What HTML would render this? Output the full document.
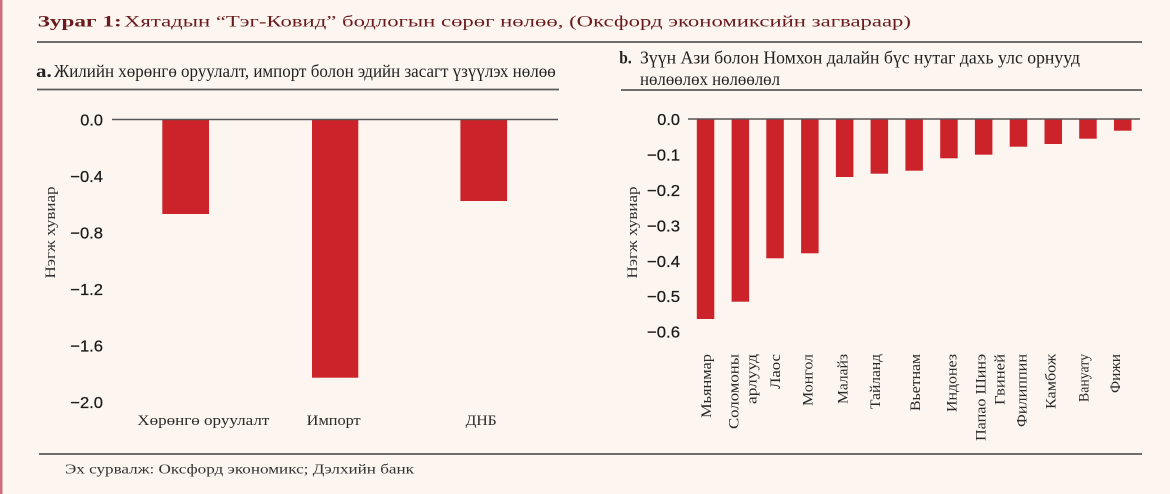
<!DOCTYPE html>
<html>
<head>
<meta charset="utf-8">
<style>
html,body{margin:0;padding:0;background:#fdf6f0;}
svg{display:block;}
.serif{font-family:"Liberation Serif","DejaVu Serif",serif;}
.sans{font-family:"Liberation Sans","DejaVu Sans",sans-serif;}
</style>
</head>
<body>
<svg width="1170" height="494" viewBox="0 0 1170 494" xmlns="http://www.w3.org/2000/svg">
<rect x="0" y="0" width="1170" height="494" fill="#fdf6f0"/>
<rect x="0" y="0" width="2.5" height="494" fill="#c9707a"/>

<!-- Title -->
<text class="serif" x="37.7" y="26.7" font-size="16" font-weight="bold" fill="#6a1a1d" textLength="84" lengthAdjust="spacingAndGlyphs">Зураг 1:</text>
<text class="serif" x="124" y="26.7" font-size="16" fill="#6a1a1d" textLength="787" lengthAdjust="spacingAndGlyphs">Хятадын “Тэг-Ковид” бодлогын сөрөг нөлөө, (Оксфорд экономиксийн загвараар)</text>
<line x1="37" y1="42" x2="1142" y2="42" stroke="#5a5a5a" stroke-width="1.7"/>

<!-- Subtitle a -->
<text class="serif" x="36" y="77" font-size="18" font-weight="bold" fill="#222" textLength="15.7" lengthAdjust="spacingAndGlyphs">a.</text>
<text class="serif" x="54" y="77" font-size="18" fill="#222" textLength="501.7" lengthAdjust="spacingAndGlyphs">Жилийн хөрөнгө оруулалт, импорт болон эдийн засагт үзүүлэх нөлөө</text>
<line x1="37" y1="89.5" x2="559" y2="89.5" stroke="#5a5a5a" stroke-width="1.7"/>

<!-- Subtitle b -->
<text class="serif" x="619.3" y="63.3" font-size="18" font-weight="bold" fill="#222" textLength="12.4" lengthAdjust="spacingAndGlyphs">b.</text>
<text class="serif" x="640" y="63.3" font-size="18" fill="#222" textLength="440" lengthAdjust="spacingAndGlyphs">Зүүн Ази болон Номхон далайн бүс нутаг дахь улс орнууд</text>
<text class="serif" x="640" y="85" font-size="18" fill="#222" textLength="140" lengthAdjust="spacingAndGlyphs">нөлөөлөх нөлөөлөл</text>
<line x1="621" y1="90" x2="1142" y2="90" stroke="#5a5a5a" stroke-width="1.7"/>

<!-- Left chart -->
<g fill="#cc2229">
<rect x="162.3" y="119.5" width="46.7" height="94.5"/>
<rect x="312" y="119.5" width="46.3" height="258.2"/>
<rect x="460.4" y="119.5" width="46.7" height="81.5"/>
</g>
<line x1="112" y1="119.5" x2="558" y2="119.5" stroke="#555" stroke-width="1.4"/>
<g class="sans" font-size="16" fill="#1a1a1a" stroke="#1a1a1a" stroke-width="0.25" text-anchor="end">
<text x="103" y="125.3" textLength="22.7" lengthAdjust="spacingAndGlyphs">0.0</text>
<text x="103" y="181.8" textLength="32.7" lengthAdjust="spacingAndGlyphs">−0.4</text>
<text x="103" y="238.3" textLength="32.7" lengthAdjust="spacingAndGlyphs">−0.8</text>
<text x="103" y="294.8" textLength="32.7" lengthAdjust="spacingAndGlyphs">−1.2</text>
<text x="103" y="351.3" textLength="32.7" lengthAdjust="spacingAndGlyphs">−1.6</text>
<text x="103" y="407.8" textLength="32.7" lengthAdjust="spacingAndGlyphs">−2.0</text>
</g>
<text class="serif" font-size="14.5" fill="#333" text-anchor="middle" transform="translate(55,232.5) rotate(-90)" textLength="92" lengthAdjust="spacingAndGlyphs">Нэгж хувиар</text>
<g class="serif" font-size="15" fill="#2a2a2a">
<text x="137.3" y="425" textLength="132" lengthAdjust="spacingAndGlyphs">Хөрөнгө оруулалт</text>
<text x="306.7" y="425" textLength="54" lengthAdjust="spacingAndGlyphs">Импорт</text>
<text x="465.7" y="425" textLength="31" lengthAdjust="spacingAndGlyphs">ДНБ</text>
</g>

<!-- Right chart -->
<g fill="#cc2229">
<rect x="696.8" y="119" width="17.5" height="200"/>
<rect x="731.6" y="119" width="17.5" height="182.7"/>
<rect x="766.3" y="119" width="17.5" height="139.3"/>
<rect x="801.1" y="119" width="17.5" height="134.3"/>
<rect x="835.9" y="119" width="17.5" height="58"/>
<rect x="870.6" y="119" width="17.5" height="54.7"/>
<rect x="905.4" y="119" width="17.5" height="51.7"/>
<rect x="940.2" y="119" width="17.5" height="39.3"/>
<rect x="974.9" y="119" width="17.5" height="35.7"/>
<rect x="1009.7" y="119" width="17.5" height="27.7"/>
<rect x="1044.5" y="119" width="17.5" height="25"/>
<rect x="1079.2" y="119" width="17.5" height="19.7"/>
<rect x="1114" y="119" width="17.5" height="11.7"/>
</g>
<line x1="688" y1="119" x2="1140" y2="119" stroke="#555" stroke-width="1.4"/>
<g class="sans" font-size="16" fill="#1a1a1a" stroke="#1a1a1a" stroke-width="0.25" text-anchor="end">
<text x="680" y="124.8" textLength="22.7" lengthAdjust="spacingAndGlyphs">0.0</text>
<text x="680" y="160.5" textLength="33" lengthAdjust="spacingAndGlyphs">−0.1</text>
<text x="680" y="196.2" textLength="33" lengthAdjust="spacingAndGlyphs">−0.2</text>
<text x="680" y="231.5" textLength="33" lengthAdjust="spacingAndGlyphs">−0.3</text>
<text x="680" y="266.8" textLength="33" lengthAdjust="spacingAndGlyphs">−0.4</text>
<text x="680" y="302" textLength="33" lengthAdjust="spacingAndGlyphs">−0.5</text>
<text x="680" y="337.5" textLength="33" lengthAdjust="spacingAndGlyphs">−0.6</text>
</g>
<text class="serif" font-size="14.5" fill="#333" text-anchor="middle" transform="translate(637,232.5) rotate(-90)" textLength="92" lengthAdjust="spacingAndGlyphs">Нэгж хувиар</text>

<g class="serif" font-size="15" fill="#2a2a2a" text-anchor="end">
<text transform="translate(711,354) rotate(-90)" textLength="64" lengthAdjust="spacingAndGlyphs">Мьянмар</text>
<text transform="translate(738.3,354) rotate(-90)" textLength="75" lengthAdjust="spacingAndGlyphs">Соломоны</text>
<text transform="translate(756.7,354) rotate(-90)" textLength="50" lengthAdjust="spacingAndGlyphs">арлууд</text>
<text transform="translate(780,354) rotate(-90)" textLength="35" lengthAdjust="spacingAndGlyphs">Лаос</text>
<text transform="translate(812.3,354) rotate(-90)" textLength="52" lengthAdjust="spacingAndGlyphs">Монгол</text>
<text transform="translate(847.3,354) rotate(-90)" textLength="50" lengthAdjust="spacingAndGlyphs">Малайз</text>
<text transform="translate(880,354) rotate(-90)" textLength="55" lengthAdjust="spacingAndGlyphs">Тайланд</text>
<text transform="translate(920,354) rotate(-90)" textLength="57" lengthAdjust="spacingAndGlyphs">Вьетнам</text>
<text transform="translate(956.7,354) rotate(-90)" textLength="58" lengthAdjust="spacingAndGlyphs">Индонез</text>
<text transform="translate(985.7,354) rotate(-90)" textLength="87" lengthAdjust="spacingAndGlyphs">Папао Шинэ</text>
<text transform="translate(1004.3,354) rotate(-90)" textLength="51" lengthAdjust="spacingAndGlyphs">Гвиней</text>
<text transform="translate(1026.7,354) rotate(-90)" textLength="73" lengthAdjust="spacingAndGlyphs">Филиппин</text>
<text transform="translate(1055.7,354) rotate(-90)" textLength="55" lengthAdjust="spacingAndGlyphs">Камбож</text>
<text transform="translate(1088.3,354) rotate(-90)" textLength="48" lengthAdjust="spacingAndGlyphs">Вануату</text>
<text transform="translate(1120,354) rotate(-90)" textLength="39" lengthAdjust="spacingAndGlyphs">Фижи</text>
</g>

<!-- Bottom rule and source -->
<line x1="39" y1="454" x2="1142" y2="454" stroke="#5a5a5a" stroke-width="1.7"/>
<text class="serif" x="65" y="473.5" font-size="14" fill="#333" textLength="349" lengthAdjust="spacingAndGlyphs">Эх сурвалж: Оксфорд экономикс; Дэлхийн банк</text>
</svg>
</body>
</html>
